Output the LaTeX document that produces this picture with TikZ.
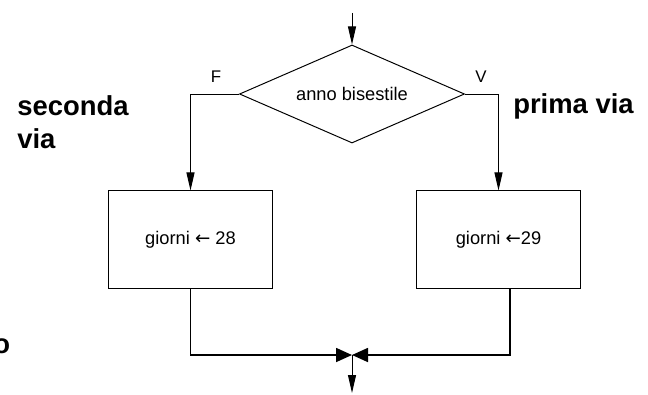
\documentclass[tikz,border=0pt]{standalone}
\usepackage{fontspec}
\setmainfont{Liberation Sans}
\newfontfamily\arrowfont{DejaVu Sans}
\usetikzlibrary{shapes,arrows.meta,positioning,calc}

\tikzset{
  test/.style={diamond,aspect=2.3,draw,line width=0.7pt,minimum width=5.625cm,minimum height=2.45cm,inner sep=0pt,font=\fontsize{13}{15}\selectfont},
  task/.style={rectangle,draw,line width=0.7pt,minimum width=4.075cm,minimum height=2.425cm,font=\fontsize{13}{15}\selectfont},
  flow/.style={line width=0.7pt,-{Triangle[length=0.45cm,width=0.2cm]}},
  merge/.style={line width=1.2pt,-{Triangle[length=0.4cm,width=0.35cm]}},
  way/.style={font=\fontsize{19.5}{23}\selectfont\bfseries,inner sep=0pt,align=left},
}

\begin{document}
\begin{tikzpicture}[x=0.025cm,y=-0.025cm]
  \useasboundingbox (0,0) rectangle (648,394);
  % leap year selection
  \node[test] (leap) at (352,94) {anno bisestile};
  \node[task] (feb28) at (190.5,239.5) {giorni {\arrowfont ←} 28};
  \node[task] (feb29) at (498.5,239.5) {giorni {\arrowfont ←}29};
  \coordinate (in) at (352,13);
  \coordinate (join) at (352,355);
  \coordinate (out) at (352,393);
  \draw[flow] (in) -- (leap.north);
  \draw[flow] (leap.west) -| (feb28.north);
  \draw[flow] (leap.east) -| (feb29.north);
  \draw[merge] (feb28.south) |- (join);
  \draw[merge] ([xshift=0.29cm]feb29.south) |- (join);
  \draw[flow] (join) -- (out);
  % branch labels
  \node[font=\fontsize{12}{14}\selectfont] (no) at (216,77) {F};
  \node[font=\fontsize{12}{14}\selectfont] (yes) at (481,77) {V};
  \node[way,anchor=base west] (second) at (17,148) {seconda\\via};
  \node[way,anchor=base west] (first) at (513,113) {prima via};
  \node[way,anchor=base west] (cut) at (-7,353) {o};
\end{tikzpicture}
\end{document}
